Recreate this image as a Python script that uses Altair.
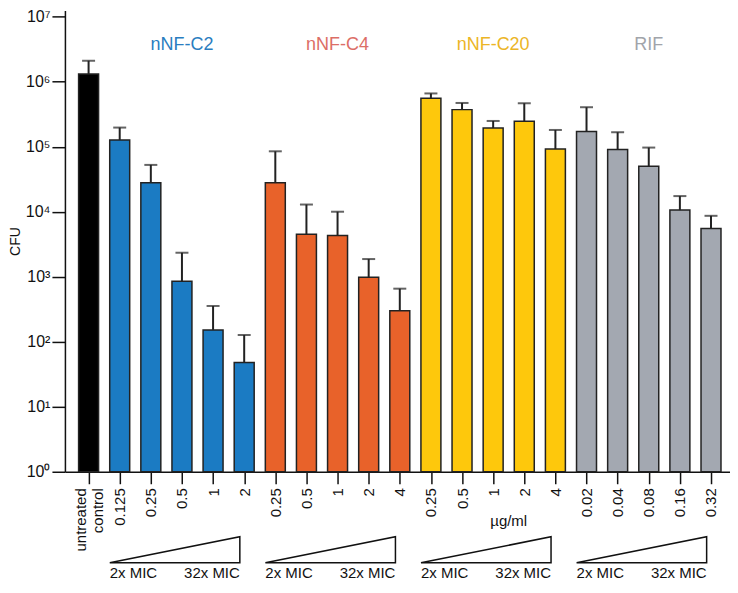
import altair as alt
import pandas as pd

# ---- data ----
labels = ["untreated control",
          "0.125", "0.25", "0.5", "1", "2",
          "0.25", "0.5", "1", "2", "4",
          "0.25", "0.5", "1", "2", "4",
          "0.02", "0.04", "0.08", "0.16", "0.32"]
groups = (["control"] + ["nNF-C2"] * 5 + ["nNF-C4"] * 5
          + ["nNF-C20"] * 5 + ["RIF"] * 5)
cfu = [1.31e6,
       1.27e5, 2.78e4, 850, 152, 48,
       2.8e4, 4.5e3, 4.3e3, 980, 300,
       5.56e5, 3.72e5, 1.94e5, 2.46e5, 9.2e4,
       1.71e5, 9.1e4, 5.0e4, 1.06e4, 5.5e3]
err_upper = [2.1e6,
             1.97e5, 5.25e4, 2340, 355, 127,
             8.5e4, 1.29e4, 1.0e4, 1870, 655,
             6.6e5, 4.71e5, 2.49e5, 4.66e5, 1.81e5,
             4.05e5, 1.67e5, 9.7e4, 1.74e4, 8.65e3]
group_names = ["nNF-C2", "nNF-C4", "nNF-C20", "RIF"]
mic_low_label = "2x MIC"
mic_high_label = "32x MIC"
unit_label = "µg/ml"
y_ticks = [1, 10, 100, 1000, 1e4, 1e5, 1e6, 1e7]

# ---- styling ----
FONT = "Liberation Sans"
bar_domain = ["control"] + group_names
bar_range = ["#000000", "#1b7bc3", "#e8622a", "#fec80c", "#a3a8b1"]
title_range = ["#2a7dc0", "#dc6e66", "#ecb526", "#a1a4aa"]

df = pd.DataFrame({"idx": list(range(len(labels))), "label": labels,
                   "group": groups, "cfu": cfu, "upper": err_upper})

# group headers and triangles derived from group index ranges
TITLE_Y = 10 ** 6.56
TRI_LOW = 10 ** -1.40
TRI_HIGH = 10 ** -1.00
MIC_Y = 10 ** -1.55
UNIT_Y = 10 ** -0.76

rows_t, rows_tri, rows_mic = [], [], []
for g in group_names:
    sub = df[df.group == g]
    first, last = sub.idx.min(), sub.idx.max()
    rows_t.append({"tgroup": g, "x": (first + last) / 2, "y": TITLE_Y})
    left, right = first - 0.32, last - 0.14
    for k, (xx, yy) in enumerate([(left, TRI_LOW), (right, TRI_HIGH),
                                  (right, TRI_LOW), (left, TRI_LOW)]):
        rows_tri.append({"tgroup": g, "x": xx, "y": yy, "o": k})
    rows_mic.append({"x": left, "y": MIC_Y, "t": mic_low_label, "side": "l"})
    rows_mic.append({"x": right, "y": MIC_Y, "t": mic_high_label, "side": "r"})
titles_df = pd.DataFrame(rows_t)
tri_df = pd.DataFrame(rows_tri)
mic_df = pd.DataFrame(rows_mic)
nnf_c20 = df[df.group == "nNF-C20"].idx
unit_df = pd.DataFrame({"x": [(nnf_c20.iloc[2] + nnf_c20.iloc[3]) / 2],
                        "y": [UNIT_Y], "t": [unit_label]})

def js_label(s):
    parts = s.split(" ")
    if len(parts) > 1:
        return "[" + ",".join("'" + p + "'" for p in parts) + "]"
    return "'" + s + "'"

x_label_expr = "[" + ",".join(js_label(s) for s in labels) + "][round(datum.value)]"
y_label_expr = ("'10' + ['\u2070','\u00b9','\u00b2','\u00b3','\u2074','\u2075','\u2076','\u2077']"
                "[round(log(datum.value)/LN10)]")

xscale = alt.Scale(domain=[-0.6, len(labels) - 0.55], nice=False, zero=False)
yscale = alt.Scale(type="log", domain=[1, 10 ** 7.097], nice=False)

x_axis = alt.Axis(values=list(range(len(labels))), labelExpr=x_label_expr,
                  labelAngle=-90, tickSize=12, tickWidth=1.5, tickColor="#111",
                  domainColor="#111", domainWidth=1.5, labelFontSize=15,
                  labelColor="#111", labelPadding=4, grid=False, title=None,
                  labelFlush=False, labelOverlap=False, labelBound=False,
                  labelOffset={"condition": {"test": "datum.value == 0", "value": -8},
                               "value": 0})
y_axis = alt.Axis(values=y_ticks, labelExpr=y_label_expr, tickSize=13,
                  tickWidth=1.5, tickColor="#111", domainColor="#111",
                  domainWidth=1.5, labelFontSize=16, labelColor="#111",
                  labelPadding=2, grid=False, title="CFU", titleFontSize=14,
                  titleFontWeight="normal", titleColor="#111", titlePadding=3,
                  labelOverlap=False, labelFlush=False)

def X(field):
    return alt.X(field, scale=xscale, axis=x_axis)

def Y(field):
    return alt.Y(field, scale=yscale, axis=y_axis)

base = alt.Chart(df)

bars = base.mark_bar(size=20, stroke="#222", strokeWidth=1.5).encode(
    x=X("idx:Q"),
    y=Y("cfu:Q"),
    y2=alt.datum(1),
    color=alt.Color("group:N", scale=alt.Scale(domain=bar_domain, range=bar_range),
                    legend=None),
)
err_line = base.mark_rule(color="#222", strokeWidth=2).encode(
    x=X("idx:Q"), y=Y("cfu:Q"), y2="upper:Q")
err_cap = base.mark_tick(color="#222", orient="horizontal", size=13,
                         thickness=2).encode(x=X("idx:Q"), y=Y("upper:Q"))

titles = alt.Chart(titles_df).mark_text(fontSize=18, baseline="middle",
                                         align="center", font=FONT).encode(
    x=X("x:Q"), y=Y("y:Q"), text="tgroup:N",
    color=alt.Color("tgroup:N", scale=alt.Scale(domain=group_names, range=title_range),
                    legend=None),
)

triangles = alt.Chart(tri_df).mark_line(color="#111", strokeWidth=1.5,
                                        clip=False).encode(
    x=X("x:Q"), y=Y("y:Q"), order="o:Q", detail="tgroup:N")
mic_left = alt.Chart(mic_df[mic_df.side == "l"]).mark_text(
    align="left", baseline="middle", fontSize=15, color="#111", font=FONT,
    clip=False).encode(x=X("x:Q"), y=Y("y:Q"), text="t:N")
mic_right = alt.Chart(mic_df[mic_df.side == "r"]).mark_text(
    align="right", baseline="middle", fontSize=15, color="#111", font=FONT,
    clip=False).encode(x=X("x:Q"), y=Y("y:Q"), text="t:N")
unit = alt.Chart(unit_df).mark_text(align="center", baseline="middle",
                                    fontSize=15, color="#111", font=FONT,
                                    clip=False).encode(x=X("x:Q"), y=Y("y:Q"),
                                                       text="t:N")

chart = alt.layer(bars, err_line, err_cap, titles, triangles, mic_left,
                  mic_right, unit).resolve_scale(color="independent").properties(
    width=666, height=462,
    padding={"left": 0, "top": 0, "right": 0, "bottom": 0},
).configure(font=FONT).configure_view(strokeWidth=0, stroke=None)

chart.save("out.html", embed_options={"renderer": "svg", "actions": False})
